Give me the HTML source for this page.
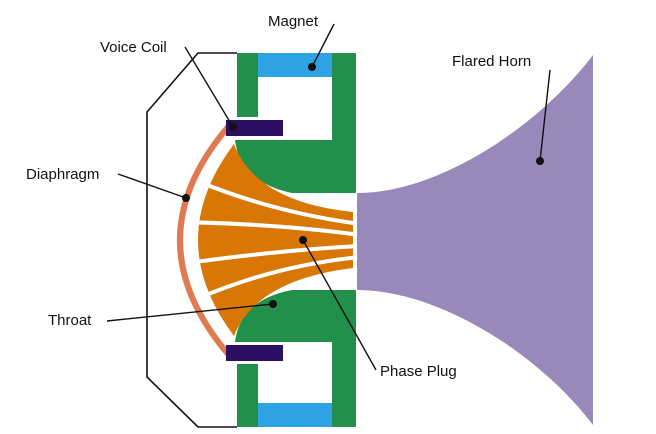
<!DOCTYPE html>
<html><head><style>
html,body{margin:0;padding:0;background:#fff;}
svg{display:block;}
text{font-family:"Liberation Sans",Arial,sans-serif;font-size:15px;fill:#111;}
</style></head><body>
<svg width="656" height="434" viewBox="0 0 656 434" xmlns="http://www.w3.org/2000/svg">
<defs>
<clipPath id="pc"><path d="M234,144 Q256,202 353,212 L353,268 Q256,280 234,336 Q162,240 234,144 Z"/></clipPath>
</defs>
<!-- horn -->
<path d="M357,193 C440,193 540,125 593,55 L593,425 C540,355 440,290 357,290 Z" fill="#9889ba"/>
<!-- outline -->
<polyline points="237,53 198,53 147,112 147,377 198,427 237,427" fill="none" stroke="#111" stroke-width="1.6"/>
<!-- magnets -->
<rect x="258" y="53" width="74" height="24" fill="#2ea3e3"/>
<rect x="258" y="403" width="74" height="24" fill="#2ea3e3"/>
<!-- green top -->
<rect x="237" y="53" width="21" height="64" fill="#22904a"/>
<rect x="332" y="53" width="24" height="140" fill="#22904a"/>
<path d="M235,140 L356,140 L356,193 L292,193 Q240,182 235,140 Z" fill="#22904a"/>
<!-- green bottom -->
<rect x="237" y="364" width="21" height="63" fill="#22904a"/>
<rect x="332" y="290" width="24" height="137" fill="#22904a"/>
<path d="M235,342 L356,342 L356,290 L292,290 Q240,300 235,342 Z" fill="#22904a"/>
<!-- diaphragm -->
<path d="M228,127 Q132,240 228,354" fill="none" stroke="#e07a50" stroke-width="6"/>
<!-- voice coils -->
<rect x="226" y="120" width="57" height="16" fill="#2b0f62"/>
<rect x="226" y="345" width="57" height="16" fill="#2b0f62"/>
<!-- phase plug -->
<path d="M234,144 Q256,202 353,212 L353,268 Q256,280 234,336 Q162,240 234,144 Z" fill="#d97706"/>
<g fill="none" stroke="#fff" stroke-width="4" clip-path="url(#pc)">
<path d="M190,178 Q270,212 360,224"/>
<path d="M180,222 Q280,224 360,235"/>
<path d="M180,264 Q280,250 360,246"/>
<path d="M190,302 Q270,266 360,257"/>
</g>
<!-- leaders -->
<g stroke="#111" stroke-width="1.4" fill="none">
<path d="M334,24 L312,67"/>
<path d="M185,47 L233,127"/>
<path d="M118,174 L186,198"/>
<path d="M107,321 L273,304"/>
<path d="M376,370 L303,240"/>
<path d="M550,70 L540,161"/>
</g>
<g fill="#111">
<circle cx="312" cy="67" r="4"/>
<circle cx="233" cy="127" r="4"/>
<circle cx="186" cy="198" r="4"/>
<circle cx="273" cy="304" r="4"/>
<circle cx="303" cy="240" r="4"/>
<circle cx="540" cy="161" r="4"/>
</g>
<text x="268" y="26">Magnet</text>
<text x="100" y="52">Voice Coil</text>
<text x="26" y="179">Diaphragm</text>
<text x="48" y="325">Throat</text>
<text x="380" y="376">Phase Plug</text>
<text x="452" y="66">Flared Horn</text>
</svg>
</body></html>
